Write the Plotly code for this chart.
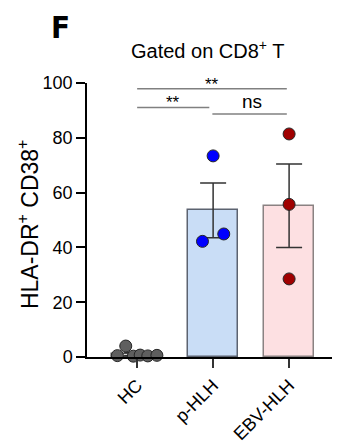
import numpy as np
import plotly.graph_objects as go

categories = ["HC", "p-HLH", "EBV-HLH"]
hc_values = [0.5, 4.0, 0.3, 0.7, 0.4, 0.6]
phlh_values = [73.4, 42.2, 44.9]
ebv_values = [81.4, 55.7, 28.5]
y_ticks = [0, 20, 40, 60, 80, 100]

groups = [hc_values, phlh_values, ebv_values]
# horizontal spread of points (style only)
offsets = [[-0.26, -0.15, -0.05, 0.04, 0.14, 0.26],
           [0.0, -0.14, 0.14],
           [0.0, 0.0, 0.0]]
bar_fill = ["#d9d9d9", "#c9ddf6", "#fde0e2"]
bar_line = ["#555555", "#5c6370", "#8a8282"]
dot_fill = ["#5f5f5f", "#0000ff", "#a00000"]

means = [float(np.mean(g)) for g in groups]
sems = [float(np.std(g, ddof=1) / np.sqrt(len(g))) for g in groups]

fig = go.Figure()
for i, g in enumerate(groups):
    fig.add_trace(go.Bar(
        x=[i], y=[means[i]], width=0.66,
        marker=dict(color=bar_fill[i], line=dict(color=bar_line[i], width=1.5)),
        error_y=dict(type="data", array=[sems[i]], visible=True,
                     color="#333333", thickness=1.5, width=13),
        showlegend=False, hoverinfo="skip"))
for i, g in enumerate(groups):
    fig.add_trace(go.Scatter(
        x=[i + o for o in offsets[i]], y=g, mode="markers",
        marker=dict(size=12, color=dot_fill[i], line=dict(color="#262626", width=1)),
        showlegend=False, cliponaxis=False))

# significance brackets
sig = [(0.0, 1.97, 97.9, "**", 0.98), (0.0, 0.95, 91.1, "**", 0.47), (0.99, 1.97, 88.7, "ns", 1.51)]
for x0, x1, yv, txt, xc in sig:
    fig.add_shape(type="line", x0=x0, x1=x1, y0=yv, y1=yv, xref="x", yref="y",
                  line=dict(color="#808080", width=1.5))
    fig.add_annotation(x=xc, y=yv, xref="x", yref="y", text=txt, showarrow=False,
                       xanchor="center", yanchor="bottom",
                       yshift=-7 if txt == "**" else 0,
                       font=dict(size=17 if txt == "**" else 19, color="black"))

fig.add_annotation(x=0.478, y=1.124, xref="paper", yref="paper",
                   text="Gated on CD8<sup>+</sup> T", showarrow=False,
                   xanchor="center", yanchor="middle",
                   font=dict(size=20, color="black"))
fig.add_annotation(x=-0.105, y=1.0, xref="paper", yref="paper",
                   text="<b>F</b>", showarrow=False, xanchor="center", yanchor="bottom",
                   yshift=37, borderpad=0,
                   font=dict(size=31, color="black", family="Liberation Sans Narrow, DejaVu Sans Condensed, Arial"))
fig.add_annotation(x=(28 - 87) / 253, y=0.485, xref="paper", yref="paper",
                   text="HLA-DR<sup>+</sup> CD38<sup>+</sup>", textangle=-90,
                   showarrow=False, xanchor="center", yanchor="middle",
                   font=dict(size=23, color="black"))

# page body has an 8px margin: the figure is drawn 8px in from the top-left
fig.update_layout(
    width=332, height=438,
    margin=dict(l=79, r=0, t=75, b=89, autoexpand=False),
    paper_bgcolor="white", plot_bgcolor="white",
    font=dict(family="Liberation Sans, Arial", color="black"),
    bargap=0,
    xaxis=dict(range=[-0.66, 2.67], tickvals=[0, 1, 2], ticktext=categories,
               tickangle=-45, ticks="outside", ticklen=9, tickwidth=1.5, tickcolor="#333333",
               showline=True, linecolor="black", linewidth=1.5, showgrid=False,
               zeroline=False, automargin=False, tickfont=dict(size=18, color="black")),
    yaxis=dict(range=[0, 100], tickvals=y_ticks, ticks="outside", ticklen=9,
               tickwidth=1.5, tickcolor="black", showline=True, linecolor="black",
               linewidth=1.5, showgrid=False, zeroline=False, automargin=False,
               tickfont=dict(size=18, color="black")),
)
fig.write_html("out.html")
